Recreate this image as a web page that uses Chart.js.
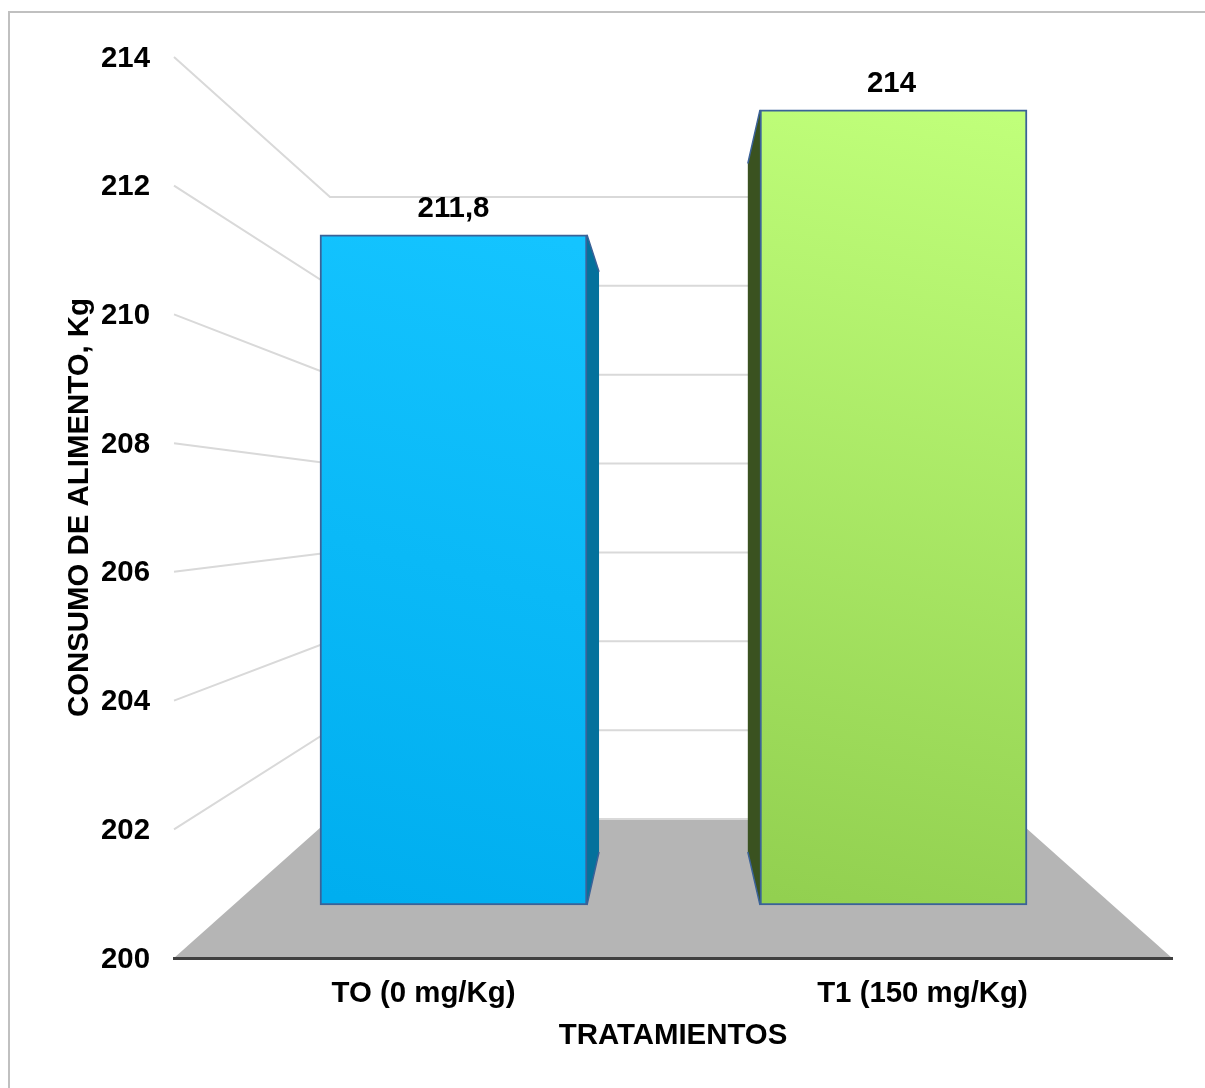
<!DOCTYPE html>
<html>
<head>
    <title>Consumo de alimento</title>
    <script src="https://cdn.jsdelivr.net/npm/chart.js"></script>
    <style>
        html, body { margin: 0; padding: 0; background: #fff; overflow: hidden; }
        #frame { position: absolute; left: 8px; top: 11px; right: 0; bottom: 0; border-left: 2px solid #c0c0c0; border-top: 2px solid #c0c0c0; }
        #foodChart { position: absolute; left: 0; top: 0; }
    </style>
</head>
<body>

<div id="frame"></div>
<canvas id="foodChart" width="1205" height="1088"></canvas>

<script>
const categories = ['TO (0 mg/Kg)', 'T1 (150 mg/Kg)'];
const consumo = [211.8, 214];
const tickValues = [200, 202, 204, 206, 208, 210, 212, 214];
const yMin = 200;
const yMax = 214;

const fontFamily = '"Liberation Sans", Arial, sans-serif';
const fontSize = 29.4;
const tickFont = { family: fontFamily, size: fontSize, weight: 'bold' };

// the plot box, and where the 3D planes sit inside it
const plot = { left: 174, right: 1172, top: 57, bottom: 958 };
const frontBase = 905, frontPerUnit = 56.8;
const backBase = 819, backPerUnit = 44.43;
const wallInset = 156;
const barGap = 440, firstBar = 453.5, barWidth = 267;
const barDepth = 0.616, sideShift = 0.14;

const barFaces = [
    { from: '#00aeef', to: '#14c4ff', side: '#04719c' },
    { from: '#92d050', to: '#c0ff7a', side: '#3a5220' }
];

// pixel-to-value ranges for the hidden axes of the front and back planes
function planeRange(base, perUnit) {
    return {
        min: yMin - (plot.bottom - base) / perUnit,
        max: yMin + (base - plot.top) / perUnit
    };
}
const frontRange = planeRange(frontBase, frontPerUnit);
const backRange = planeRange(backBase, backPerUnit);

const perspective = {
    id: 'perspective',
    // floor and wall lines go under the axes
    beforeDraw(chart) {
        const { ctx, chartArea: a, scales } = chart;
        const yBack = scales.yBack, yTick = scales.y;
        ctx.save();
        ctx.fillStyle = '#b5b5b5';
        ctx.beginPath();
        ctx.moveTo(a.left, a.bottom);
        ctx.lineTo(a.left + wallInset, yBack.getPixelForValue(yMin));
        ctx.lineTo(a.right - wallInset, yBack.getPixelForValue(yMin));
        ctx.lineTo(a.right, a.bottom);
        ctx.closePath();
        ctx.fill();

        ctx.strokeStyle = '#d9d9d9';
        ctx.lineWidth = 2;
        tickValues.forEach(v => {
            const wallY = yBack.getPixelForValue(v);
            ctx.beginPath();
            if (v > yMin) {
                ctx.moveTo(a.left, yTick.getPixelForValue(v));
                ctx.lineTo(a.left + wallInset, wallY);
            } else {
                ctx.moveTo(a.left + wallInset, wallY);
            }
            ctx.lineTo(a.right - wallInset, wallY);
            ctx.stroke();
        });
        ctx.restore();
    },
    // inner side of each bar, leaning toward the middle of the plot
    beforeDatasetsDraw(chart) {
        const { ctx, chartArea: a, scales } = chart;
        const mid = (a.left + a.right) / 2;
        const yBack = scales.yBack;
        chart.getDatasetMeta(0).data.forEach((bar, i) => {
            const edge = bar.x < mid ? bar.x + bar.width / 2 : bar.x - bar.width / 2;
            const farX = edge + (mid - edge) * sideShift;
            const farTop = bar.y + (yBack.getPixelForValue(consumo[i]) - bar.y) * barDepth;
            const farBase = bar.base + (yBack.getPixelForValue(yMin) - bar.base) * barDepth;
            ctx.save();
            ctx.fillStyle = barFaces[i].side;
            ctx.strokeStyle = '#3a6298';
            ctx.lineWidth = 1.5;
            ctx.beginPath();
            ctx.moveTo(edge, bar.y);
            ctx.lineTo(farX, farTop);
            ctx.lineTo(farX, farBase);
            ctx.lineTo(edge, bar.base);
            ctx.closePath();
            ctx.fill();
            ctx.beginPath();
            ctx.moveTo(edge, bar.y);
            ctx.lineTo(farX, farTop);
            ctx.moveTo(farX, farBase);
            ctx.lineTo(edge, bar.base);
            ctx.stroke();
            ctx.restore();
        });
    },
    // value labels above the bars
    afterDatasetsDraw(chart) {
        const { ctx } = chart;
        ctx.save();
        ctx.fillStyle = '#000';
        ctx.font = 'bold ' + fontSize + 'px ' + fontFamily;
        ctx.textAlign = 'center';
        ctx.textBaseline = 'middle';
        chart.getDatasetMeta(0).data.forEach((bar, i) => {
            ctx.fillText(String(consumo[i]).replace('.', ','), bar.x - 2 * i, bar.y - 26);
        });
        ctx.restore();
    }
};

function faceGradient(context) {
    const chart = context.chart;
    const i = context.dataIndex;
    const face = barFaces[i];
    if (!chart.chartArea) return face.from;
    const yFront = chart.scales.yFront, xFront = chart.scales.xFront;
    const cx = xFront.getPixelForValue(i);
    const g = chart.ctx.createLinearGradient(
        cx - barWidth / 3, yFront.getPixelForValue(yMin),
        cx + barWidth / 3, yFront.getPixelForValue(consumo[i]));
    g.addColorStop(0, face.from);
    g.addColorStop(1, face.to);
    return g;
}

new Chart(document.getElementById('foodChart').getContext('2d'), {
    type: 'bar',
    plugins: [perspective],
    data: {
        labels: categories,
        datasets: [{
            label: 'Consumo',
            data: consumo.map((v, i) => ({ x: i, y: v })),
            base: yMin,
            xAxisID: 'xFront',
            yAxisID: 'yFront',
            barThickness: barWidth,
            backgroundColor: faceGradient,
            borderColor: '#3a6298',
            borderWidth: 2,
            borderSkipped: false
        }]
    },
    options: {
        responsive: false,
        animation: false,
        layout: { padding: { top: plot.top, right: 1205 - plot.right, left: 0, bottom: 0 } },
        plugins: { legend: { display: false }, tooltip: { enabled: false } },
        scales: {
            x: {
                type: 'category',
                offset: true,
                afterFit(axis) { axis.height = 1088 - plot.bottom; },
                grid: { display: false },
                border: { display: true, color: '#404040', width: 3 },
                ticks: { color: '#000', font: tickFont, padding: 10, maxRotation: 0 },
                title: {
                    display: true,
                    text: 'TRATAMIENTOS',
                    color: '#000',
                    font: tickFont,
                    padding: { top: 0, bottom: 34 }
                }
            },
            y: {
                type: 'linear',
                position: 'left',
                min: yMin,
                max: yMax,
                afterFit(axis) { axis.width = plot.left; },
                afterBuildTicks(axis) { axis.ticks = tickValues.map(v => ({ value: v })); },
                grid: { display: false },
                border: { display: false },
                ticks: { color: '#000', font: tickFont, padding: 16, labelOffset: 1.5 },
                title: {
                    display: true,
                    text: 'CONSUMO DE ALIMENTO, Kg',
                    color: '#000',
                    font: tickFont,
                    padding: { top: 62, bottom: 0 }
                }
            },
            // hidden axes for the bar plane and the back wall
            xFront: {
                type: 'linear',
                display: false,
                offset: false,
                grid: { offset: false },
                min: (plot.left - firstBar) / barGap,
                max: (plot.right - firstBar) / barGap
            },
            yFront: { type: 'linear', display: false, min: frontRange.min, max: frontRange.max },
            yBack: { type: 'linear', display: false, min: backRange.min, max: backRange.max }
        }
    }
});
</script>

</body>
</html>
